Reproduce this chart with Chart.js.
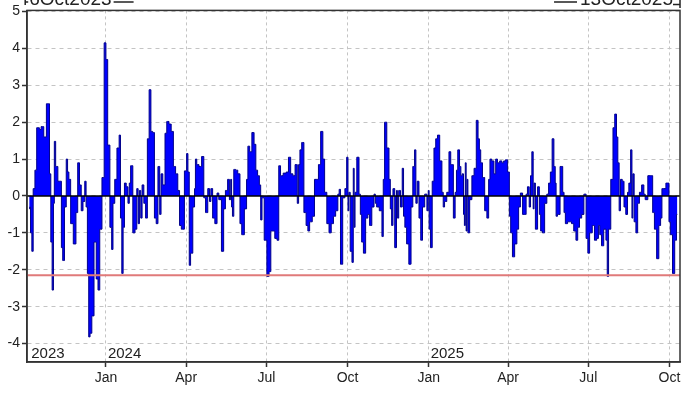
<!DOCTYPE html>
<html>
<head>
<meta charset="utf-8">
<script src="https://cdn.jsdelivr.net/npm/chart.js"></script>
<style>
  html, body { margin: 0; padding: 0; background: #fff; }
</style>
</head>
<body>
<canvas id="chart" width="700" height="394"></canvas>
<script>
// days counted from 6 Oct 2023 (day 0) to 13 Oct 2025 (day 738)
const firstLabel = "6Oct2023";
const lastLabel = "13Oct2025";
const lastDay = 738;

const tickDays = [87, 178, 269, 361, 453, 543, 634, 726];
const tickLabels = ["Jan", "Apr", "Jul", "Oct", "Jan", "Apr", "Jul", "Oct"];
const yearDays = [0, 87, 453];
const yearLabels = ["2023", "2024", "2025"];

const refLevel = -2.15;

// Q4 2023
const days2023 = [0, 1, 2, 4, 5, 8, 9, 11, 12, 15, 16, 17, 19, 20, 22, 24, 25, 27, 28, 29, 31, 34, 36, 37, 39, 41, 43, 44, 46, 48, 52, 54, 56, 58, 60, 62, 64, 65, 67, 68, 70, 72, 75, 77, 79, 81, 84, 86];
const vals2023 = [-0.35, -0.3, -1.0, -1.5, 0.2, 0.7, 1.85, 1.85, 1.8, 1.88, 1.88, 1.6, 1.6, 2.5, 2.5, 0.6, -1.25, -2.55, -0.2, 1.48, 0.8, 0.4, 0.4, -1.4, -1.75, -0.3, 1.0, 0.65, 0.45, -0.75, -1.3, -0.45, 0.9, 0.3, -0.4, -0.15, 0.4, -0.3, -2.1, -3.82, -3.72, -3.25, -1.25, -2.25, -2.55, -0.9, 0.5, 4.15];

// 2024
const days2024 = [88, 90, 93, 94, 96, 98, 101, 103, 104, 106, 107, 109, 111, 113, 114, 116, 119, 121, 123, 124, 126, 127, 129, 131, 133, 135, 137, 139, 141, 143, 145, 147, 149, 150, 153, 155, 157, 160, 162, 165, 167, 170, 171, 174, 178, 179, 181, 182, 184, 187, 188, 189, 191, 194, 197, 199, 201, 204, 205, 207, 209, 212, 214, 216, 220, 221, 224, 226, 228, 229, 230, 231, 233, 235, 238, 240, 242, 246, 247, 249, 251, 254, 256, 258, 260, 262, 263, 265, 268, 271, 273, 275, 277, 280, 282, 284, 286, 290, 293, 295, 298, 300, 303, 305, 306, 308, 310, 313, 315, 317, 319, 323, 324, 327, 329, 332, 334, 336, 339, 341, 344, 346, 349, 351, 352, 354, 357, 359, 361, 362, 363, 365, 367, 368, 369, 370, 373, 375, 376, 378, 380, 383, 385, 387, 390, 392, 393, 395, 399, 401, 402, 404, 407, 409, 410, 412, 413, 416, 417, 418, 420, 422, 424, 425, 427, 429, 432, 434, 436, 438, 439, 441, 443, 445, 447, 450, 452];
const vals2024 = [3.7, 1.38, -0.85, -1.45, -0.2, 0.45, 1.3, 1.65, -0.6, -2.1, -0.85, 0.35, 0.25, -0.2, 0.35, 0.82, -1.0, -0.9, 0.2, -0.75, 0.15, -0.6, 0.3, -0.2, -0.6, 1.55, 2.88, 1.75, 1.72, -0.6, -0.75, 0.8, -0.5, 0.6, 0.3, 1.7, 2.02, 1.95, 1.75, 0.8, 0.6, 0.15, -0.8, -0.9, 0.68, 1.15, 0.65, -1.88, -1.55, -0.3, 0.2, 1.0, 0.85, 0.8, 1.07, -0.05, -0.45, 0.2, -0.15, 0.2, -0.6, -0.75, 0.08, -0.1, -1.5, -0.35, 0.15, 0.45, -0.1, 0.45, -0.3, -0.55, 0.72, 0.7, 0.6, -0.75, -1.05, -0.35, 0.45, 1.35, 1.2, 1.72, 1.4, 0.7, 0.55, 0.3, -0.65, -0.05, -1.2, -2.18, -2.05, -0.95, -0.95, -1.15, -1.2, 0.82, 0.55, 0.62, 0.65, 1.05, 0.6, 0.55, 0.85, -0.2, 0.85, 1.25, 1.45, -0.45, -0.8, -0.95, -0.7, -0.55, 0.45, 0.45, 0.85, 1.75, 1.0, 0.1, -0.75, -1.0, -0.75, -0.55, -0.4, 0.05, 0.18, -1.85, -0.05, 0.2, 1.05, -0.4, 0.1, -1.5, -1.8, 0.75, -0.85, 0.1, 1.05, 0.05, -0.5, -1.25, -1.55, -0.6, -0.5, -0.8, -0.3, 0.05, -0.2, -0.3, -0.4, -1.1, 0.45, 2.0, 1.3, 0.45, -0.35, -0.8, 0.2, -1.4, 0.15, -0.6, 0.15, -0.3, 0.75, -0.55, -0.85, -1.3, -1.85, -0.3, 0.8, 1.25, -0.2, 0.4, -0.6, -1.2, -0.3, 0.05, -0.4];

// 2025
const days2025 = [453, 454, 456, 458, 460, 462, 464, 467, 469, 470, 472, 475, 477, 479, 480, 482, 484, 485, 487, 489, 490, 492, 493, 494, 495, 496, 497, 498, 501, 503, 506, 508, 510, 511, 513, 515, 518, 520, 522, 523, 526, 528, 530, 532, 535, 537, 539, 541, 544, 545, 547, 549, 552, 554, 556, 558, 561, 563, 564, 566, 568, 569, 571, 572, 573, 575, 578, 579, 581, 583, 586, 588, 590, 592, 594, 596, 597, 598, 600, 604, 606, 607, 609, 612, 614, 616, 619, 621, 623, 625, 628, 630, 633, 634, 637, 640, 642, 645, 646, 648, 650, 653, 655, 656, 658, 661, 663, 665, 667, 668, 670, 671, 674, 675, 678, 679, 681, 683, 684, 685, 687, 689, 691, 693, 696, 698, 699, 704, 706, 708, 710, 713, 715, 717, 718, 721, 723, 725, 726, 728, 731, 733, 735];
const vals2025 = [0.15, -0.9, -1.4, 0.4, 1.3, 1.55, 1.65, 0.95, 0.1, -0.3, -0.15, 0.1, 1.2, 0.85, 0.85, -0.6, 0.1, 0.7, 1.25, 0.8, 0.55, 0.6, -0.5, -0.8, 0.9, -0.95, 0.45, -1.0, -0.1, 0.55, 0.75, 2.05, 1.55, 1.25, 0.9, 0.5, -0.4, -0.6, 0.45, 1.0, 0.95, 0.6, 1.0, 0.9, 0.95, 0.9, 0.95, 0.98, 0.65, -0.55, -1.0, -1.65, -1.3, -0.9, -0.3, 0.08, -0.5, -0.5, 0.05, 0.25, -0.3, 0.55, 1.2, -0.35, 0.35, -0.9, 0.25, -0.5, -0.95, -1.0, -0.2, 0.05, 0.35, 0.65, 1.55, 0.8, 0.35, -0.55, -0.5, 0.8, 0.1, -0.45, -0.75, -0.7, -0.7, -0.75, -0.95, -1.2, -0.85, -0.6, -0.5, 0.05, -1.15, -1.55, -1.0, -0.8, -1.2, -1.15, -0.8, -1.05, -1.35, -0.9, -1.2, -2.18, -0.9, 0.45, 1.85, 2.22, 1.6, 0.9, -0.4, 0.45, 0.4, -0.3, -0.5, 0.1, 0.35, 1.25, -0.6, 0.6, -0.7, -1.0, -0.2, 0.1, 0.3, 0.05, -0.1, 0.55, 0.55, -0.45, -0.9, -1.7, -0.8, -0.6, 0.2, 0.2, 0.35, 0.35, -0.7, -1.05, -2.1, -1.2, -0.5];

const allDays = days2023.concat(days2024, days2025);
const allVals = vals2023.concat(vals2024, vals2025);
const points = allDays.map((d, i) => ({ x: d, y: allVals[i] }));

const xMin = -2.5;
const xMax = lastDay;

const labelFont = { family: "'Liberation Sans', Arial, sans-serif", size: 14 };
const textColor = "#222";

// frame, zero line and the little text labels
const decorations = {
	id: "decorations",
	afterDatasetsDraw(chart) {
		const { ctx, chartArea, scales } = chart;
		const y0 = scales.y.getPixelForValue(0);
		ctx.save();
		ctx.strokeStyle = "#000";
		ctx.lineWidth = 1.5;
		ctx.beginPath();
		ctx.moveTo(chartArea.left, y0);
		ctx.lineTo(chartArea.right, y0);
		ctx.stroke();

		ctx.strokeStyle = "#333";
		ctx.lineWidth = 1.5;
		ctx.strokeRect(chartArea.left, chartArea.top, chartArea.right - chartArea.left, chartArea.bottom - chartArea.top);

		// year labels inside the plot
		ctx.fillStyle = textColor;
		ctx.font = "15px 'Liberation Sans', Arial, sans-serif";
		ctx.textBaseline = "alphabetic";
		ctx.textAlign = "left";
		yearDays.forEach((d, i) => {
			const x = Math.max(scales.x.getPixelForValue(d), chartArea.left) + 2;
			ctx.fillText(yearLabels[i], x, chartArea.bottom - 4);
		});

		// date range labels, cut off by the top edge
		ctx.font = "19px 'Liberation Sans', Arial, sans-serif";
		ctx.lineWidth = 1.5;
		ctx.strokeStyle = "#222";
		const xl = scales.x.getPixelForValue(0);
		ctx.beginPath();
		ctx.moveTo(xl - 4, 0);
		ctx.lineTo(xl - 4, 5);
		ctx.moveTo(xl - 4, 2);
		ctx.lineTo(xl - 1, 2);
		ctx.stroke();
		ctx.fillText(firstLabel, xl, 4.5);
		const wl = ctx.measureText(firstLabel).width;
		ctx.beginPath();
		ctx.moveTo(xl + wl + 2, 2);
		ctx.lineTo(xl + wl + 22, 2);
		ctx.stroke();

		const xr = scales.x.getPixelForValue(lastDay);
		ctx.textAlign = "right";
		ctx.fillText(lastLabel, xr - 7, 4.5);
		const wr = ctx.measureText(lastLabel).width;
		ctx.beginPath();
		ctx.moveTo(xr - 7 - wr - 26, 2);
		ctx.lineTo(xr - 7 - wr - 3, 2);
		ctx.moveTo(xr - 7, 4.5);
		ctx.lineTo(xr, 4.5);
		ctx.moveTo(xr, 0);
		ctx.lineTo(xr, 8);
		ctx.stroke();
		ctx.restore();
	},
};

const ctx = document.getElementById("chart").getContext("2d");
new Chart(ctx, {
	type: "line",
	data: {
		datasets: [
			{
				data: points,
				stepped: "middle",
				fill: "origin",
				backgroundColor: "#0000ff",
				borderColor: "#00008b",
				borderWidth: 1,
				pointRadius: 0,
				order: 2,
			},
			{
				data: [
					{ x: xMin, y: refLevel },
					{ x: xMax, y: refLevel },
				],
				borderColor: "#e07a7a",
				borderWidth: 2,
				pointRadius: 0,
				fill: false,
				order: 1,
			},
		],
	},
	options: {
		responsive: false,
		animation: false,
		events: [],
		layout: { padding: { top: 10, right: 20, left: 0, bottom: 0 } },
		plugins: {
			legend: { display: false },
			tooltip: { enabled: false },
		},
		scales: {
			x: {
				type: "linear",
				min: xMin,
				max: xMax,
				afterBuildTicks: (scale) => {
					scale.ticks = tickDays.map((v) => ({ value: v }));
				},
				afterFit: (scale) => {
					scale.height = 32;
				},
				ticks: {
					autoSkip: false,
					maxRotation: 0,
					padding: 3,
					font: labelFont,
					color: textColor,
					callback: (v, i) => tickLabels[i],
				},
				grid: {
					color: "#c4c4c4",
					lineWidth: 1,
					tickLength: 5,
					tickColor: "#333",
					tickWidth: 1.5,
				},
				border: { color: "#333", width: 1.5, dash: [3, 3] },
			},
			y: {
				min: -4.5,
				max: 5.03,
				afterFit: (scale) => {
					scale.width = 27;
				},
				ticks: {
					stepSize: 1,
					includeBounds: false,
					padding: 2,
					font: labelFont,
					color: textColor,
				},
				grid: {
					color: "#c4c4c4",
					lineWidth: 1,
					tickLength: 5,
					tickColor: "#333",
					tickWidth: 1.5,
				},
				border: { color: "#333", width: 1.5, dash: [4, 4] },
			},
		},
	},
	plugins: [decorations],
});
</script>
</body>
</html>
